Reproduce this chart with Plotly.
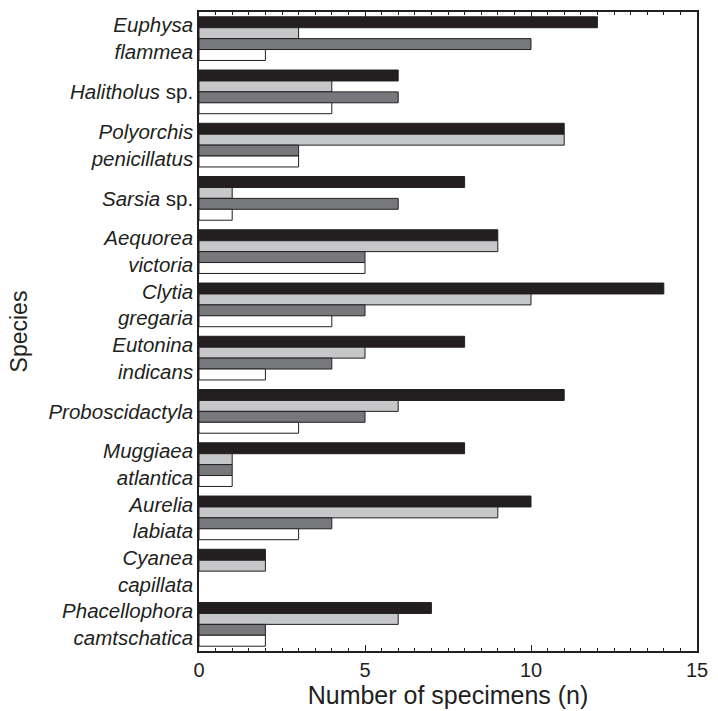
import plotly.graph_objects as go

# Species (top to bottom) and specimen counts for the four sample groups
species = [
    "<i>Euphysa<br>flammea</i>",
    "<i>Halitholus</i> sp.",
    "<i>Polyorchis<br>penicillatus</i>",
    "<i>Sarsia</i> sp.",
    "<i>Aequorea<br>victoria</i>",
    "<i>Clytia<br>gregaria</i>",
    "<i>Eutonina<br>indicans</i>",
    "<i>Proboscidactyla</i>",
    "<i>Muggiaea<br>atlantica</i>",
    "<i>Aurelia<br>labiata</i>",
    "<i>Cyanea<br>capillata</i>",
    "<i>Phacellophora<br>camtschatica</i>",
]
group_black = [12, 6, 11, 8, 9, 14, 8, 11, 8, 10, 2, 7]
group_light = [3, 4, 11, 1, 9, 10, 5, 6, 1, 9, 2, 6]
group_dark = [10, 6, 3, 6, 5, 5, 4, 5, 1, 4, 0, 2]
group_white = [2, 4, 3, 1, 5, 4, 2, 3, 1, 3, 0, 2]

series = [
    ("A", group_black, "#231f20"),
    ("B", group_light, "#c6c7c9"),
    ("C", group_dark, "#77787b"),
    ("D", group_white, "#ffffff"),
]

fig = go.Figure()
for name, vals, color in series:
    # no outline on empty bars
    widths = [1 if v > 0 else 0 for v in vals]
    fig.add_trace(go.Bar(
        x=vals, y=species, name=name, orientation="h",
        marker=dict(color=color, line=dict(color="#231f20", width=widths)),
    ))

fig.update_layout(
    width=718, height=711,
    margin=dict(l=199, r=12, t=10, b=60),
    barmode="group", bargap=0.18, bargroupgap=0,
    plot_bgcolor="white", paper_bgcolor="white",
    showlegend=False,
    font=dict(family="Liberation Sans, Arial, sans-serif", color="#231f20", size=17),
)
fig.update_xaxes(
    range=[0, 15], tickvals=[0, 5, 10, 15], ticktext=["0", "5", "10", "15"],
    ticks="inside", ticklen=6, tickcolor="#231f20",
    minor=dict(dtick=0.5, ticks="inside", ticklen=3, tickcolor="#231f20"),
    showline=True, linecolor="#231f20", linewidth=1.5, mirror="allticks",
    showgrid=False, zeroline=False,
    tickfont=dict(size=20, family="Liberation Sans, Arial, sans-serif"),
    title=dict(text="Number of specimens (n)", font=dict(size=25), standoff=2),
)
fig.update_yaxes(
    autorange="reversed",
    showline=True, linecolor="#231f20", linewidth=1.5, mirror=True,
    showgrid=False, ticks="", ticklen=0,
    tickfont=dict(size=20.5),
    title=dict(text="Species", font=dict(size=23), standoff=14),
)

fig.write_html("out.html")
